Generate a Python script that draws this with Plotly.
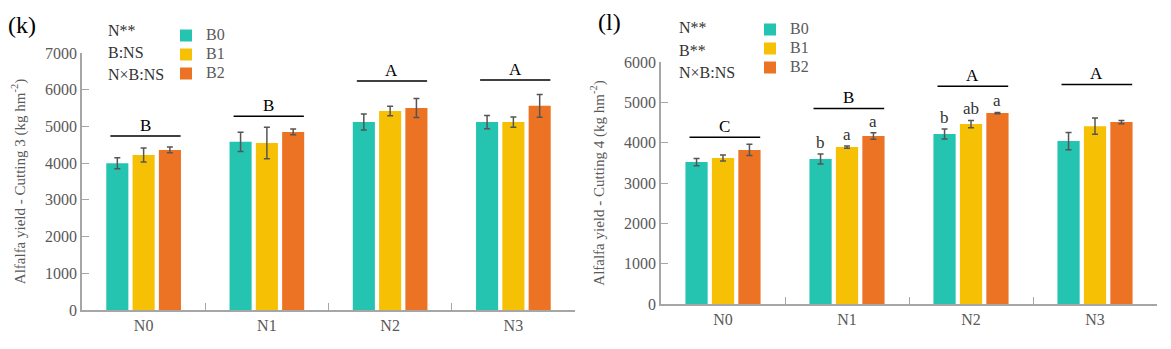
import plotly.graph_objects as go

categories = ["N0", "N1", "N2", "N3"]
series_names = ["B0", "B1", "B2"]
colors = ["#24c4b1", "#f6c105", "#ec7224"]

# Panel (k): Cutting 3
k_values = {
    "B0": [4000, 4580, 5120, 5120],
    "B1": [4220, 4550, 5420, 5120],
    "B2": [4360, 4850, 5500, 5560],
}
k_errors = {
    "B0": [150, 260, 220, 180],
    "B1": [190, 430, 130, 140],
    "B2": [80, 80, 260, 310],
}
k_group_letters = ["B", "B", "A", "A"]
k_group_line_y = [4740, 5280, 6240, 6265]
k_stats = ["N**", "B:NS", "N×B:NS"]

# Panel (l): Cutting 4
l_values = {
    "B0": [3520, 3595, 4215, 4040],
    "B1": [3620, 3890, 4460, 4410],
    "B2": [3820, 4165, 4735, 4510],
}
l_errors = {
    "B0": [90, 125, 125, 215],
    "B1": [75, 30, 90, 200],
    "B2": [140, 80, 15, 40],
}
l_group_letters = ["C", "B", "A", "A"]
l_group_line_y = [4135, 4850, 5400, 5445]
l_bar_letters = {
    "B0": ["", "b", "b", ""],
    "B1": ["", "a", "ab", ""],
    "B2": ["", "a", "a", ""],
}
l_stats = ["N**", "B**", "N×B:NS"]

FONT = "Liberation Serif"
GREY = "#595959"
AXIS = "#a6a6a6"
W, H = 1171, 349
BARGAP = 0.36

def py(v):
    return (H - v) / H

fig = go.Figure()

panels = [
    dict(vals=k_values, errs=k_errors, xa="x", ya="y", legend="legend"),
    dict(vals=l_values, errs=l_errors, xa="x2", ya="y2", legend="legend2"),
]
for p in panels:
    for name, col in zip(series_names, colors):
        fig.add_trace(go.Bar(
            x=categories, y=p["vals"][name],
            name="<span style='font-size:16px'>" + name + "</span>",
            marker=dict(color=col, line=dict(width=0)),
            error_y=dict(type="data", array=p["errs"][name], color="#555555",
                         thickness=1.5, width=3),
            xaxis=p["xa"], yaxis=p["ya"], legend=p["legend"],
        ))

shapes = []
annotations = []

def group_marks(letters, line_y, xref, yref):
    for i, (lt, ly) in enumerate(zip(letters, line_y)):
        shapes.append(dict(type="line", xref=xref, yref=yref,
                           x0=i - 0.27, x1=i + 0.3, y0=ly, y1=ly,
                           line=dict(color="black", width=1.5)))
        annotations.append(dict(x=i + 0.015, y=ly, xref=xref, yref=yref, text=lt,
                                showarrow=False, yanchor="bottom", yshift=-1,
                                font=dict(family=FONT, size=17, color="black")))

group_marks(k_group_letters, k_group_line_y, "x", "y")
group_marks(l_group_letters, l_group_line_y, "x2", "y2")

slot = (1 - BARGAP) / 3
for k, name in enumerate(series_names):
    for i, lt in enumerate(l_bar_letters[name]):
        if lt:
            annotations.append(dict(
                x=i + (k - 1) * slot, y=l_values[name][i] + l_errors[name][i],
                xref="x2", yref="y2", text=lt, showarrow=False,
                yanchor="bottom", yshift=0,
                font=dict(family=FONT, size=17, color="#333333")))

def stats_block(lines, x_px, y_px0):
    for j, t in enumerate(lines):
        annotations.append(dict(x=x_px / W, y=py(y_px0 + j * 22), xref="paper", yref="paper",
                                text=t, showarrow=False, xanchor="left", yanchor="middle",
                                font=dict(family=FONT, size=16, color="#333333")))

stats_block(k_stats, 106, 30)
stats_block(l_stats, 677, 28)

annotations.append(dict(x=6 / W, y=py(25), xref="paper", yref="paper", text="(k)",
                        showarrow=False, xanchor="left", yanchor="middle",
                        font=dict(family=FONT, size=24, color="black")))
annotations.append(dict(x=596 / W, y=py(22), xref="paper", yref="paper", text="(l)",
                        showarrow=False, xanchor="left", yanchor="middle",
                        font=dict(family=FONT, size=24, color="black")))

def xaxis(dom, anchor):
    return dict(domain=dom, anchor=anchor, type="category", tickson="boundaries",
                ticks="inside", ticklen=7, tickcolor=AXIS, showline=True,
                linecolor=AXIS, linewidth=1.5, showgrid=False, mirror=False,
                automargin=False,
                tickfont=dict(family=FONT, size=16, color=GREY))

def yaxis(dom, anchor, rng, dtick, title):
    return dict(domain=dom, anchor=anchor, range=rng, dtick=dtick,
                ticks="inside", ticklen=7, tickcolor=AXIS, showline=True,
                linecolor=AXIS, linewidth=1.5, showgrid=False, zeroline=False,
                automargin=False,
                tickfont=dict(family=FONT, size=16, color=GREY),
                title=dict(text=title, standoff=16,
                           font=dict(family=FONT, size=15, color=GREY)))

fig.update_layout(
    width=W, height=H,
    margin=dict(l=0, r=0, t=0, b=0, autoexpand=False),
    paper_bgcolor="white", plot_bgcolor="white",
    barmode="group", bargap=BARGAP, bargroupgap=0.16,
    xaxis=xaxis([82 / W, 575 / W], "y"),
    yaxis=yaxis([py(310), py(53)], "x", [0, 7000], 1000,
                "Alfalfa yield - Cutting 3 (kg hm<sup>-2</sup>)"),
    xaxis2=xaxis([661 / W, 1157 / W], "y2"),
    yaxis2=yaxis([py(304), py(62)], "x2", [0, 6000], 1000,
                 "Alfalfa yield - Cutting 4 (kg hm<sup>-2</sup>)"),
    legend=dict(x=166 / W, y=py(21), xanchor="left", yanchor="top",
                bgcolor="rgba(0,0,0,0)", tracegroupgap=0,
                font=dict(family=FONT, size=12, color=GREY)),
    legend2=dict(x=750 / W, y=py(15), xanchor="left", yanchor="top",
                 bgcolor="rgba(0,0,0,0)", tracegroupgap=0,
                 font=dict(family=FONT, size=12, color=GREY)),
    shapes=shapes, annotations=annotations,
    showlegend=True,
)

fig.write_html("out.html", config={"displayModeBar": False},
               post_script="document.body.style.margin='0';")
